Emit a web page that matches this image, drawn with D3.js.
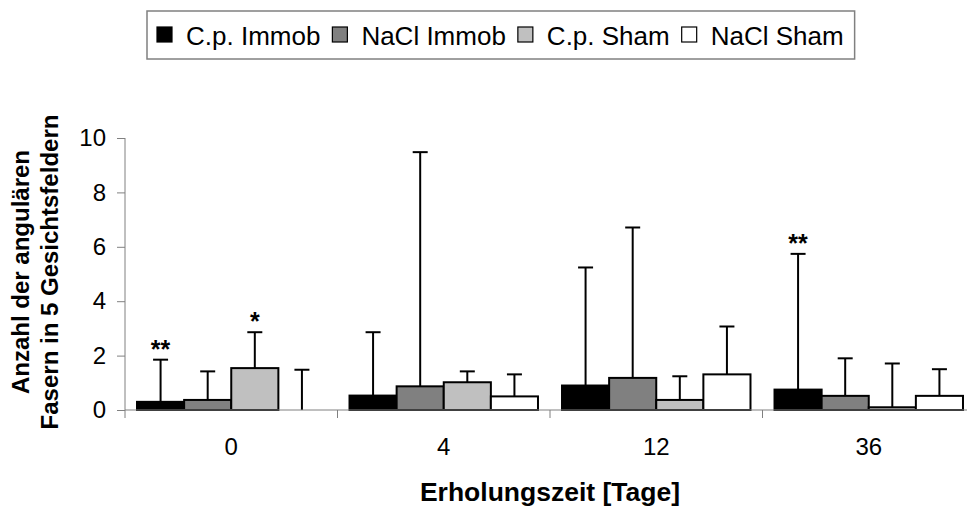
<!DOCTYPE html>
<html>
<head>
<meta charset="utf-8">
<script src="https://cdn.jsdelivr.net/npm/d3@7"></script>
<style>
  html, body { margin: 0; padding: 0; background: #fff; }
  svg { display: block; font-family: 'Liberation Sans', Arial, sans-serif; }
</style>
</head>
<body>
<div id="chart"></div>
<script>
// categories (recovery days) and series
const categories = ['0', '4', '12', '36'];
const seriesNames = ['C.p. Immob', 'NaCl Immob', 'C.p. Sham', 'NaCl Sham'];

// means
const cpImmob = [0.3, 0.53, 0.9, 0.75];
const naclImmob = [0.37, 0.87, 1.18, 0.52];
const cpSham = [1.54, 1.02, 0.37, 0.1];
const naclSham = [0, 0.5, 1.31, 0.52];

// standard deviations (upper error bars only)
const cpImmobSd = [1.55, 2.33, 4.34, 4.99];
const naclImmobSd = [1.05, 8.61, 5.53, 1.38];
const cpShamSd = [1.32, 0.4, 0.87, 1.61];
const naclShamSd = [1.48, 0.81, 1.76, 0.98];

// significance marks
const cpImmobSig = ['**', '', '', '**'];
const naclImmobSig = ['', '', '', ''];
const cpShamSig = ['*', '', '', ''];
const naclShamSig = ['', '', '', ''];

const yTicks = [0, 2, 4, 6, 8, 10];

/**
 * layout config
 */
const config = {
  width: 967,
  height: 508,
  plot: { left: 125, right: 975, top: 138, bottom: 410 },
  colors: ['#000000', '#808080', '#c0c0c0', '#ffffff'],
  axis_color: '#808080',
  font: "'Liberation Sans', Arial, sans-serif",
  tick_size: 24,
  title_size: 24,
  x_title_size: 26.5,
  legend_size: 26,
  sig_size: 25,
  cap_width: 15
};

const series = [
  { name: seriesNames[0], values: cpImmob, sd: cpImmobSd, sig: cpImmobSig },
  { name: seriesNames[1], values: naclImmob, sd: naclImmobSd, sig: naclImmobSig },
  { name: seriesNames[2], values: cpSham, sd: cpShamSd, sig: cpShamSig },
  { name: seriesNames[3], values: naclSham, sd: naclShamSd, sig: naclShamSig }
];

const { plot } = config;

const svg = d3.select('#chart').append('svg')
  .attr('width', config.width)
  .attr('height', config.height);

const x0 = d3.scaleBand()
  .domain(categories)
  .range([plot.left, plot.right])
  .padding(0);

const x1 = d3.scaleBand()
  .domain(seriesNames)
  .range([0, x0.bandwidth()])
  .paddingInner(0)
  .paddingOuter(0.255);

const y = d3.scaleLinear()
  .domain([0, 10])
  .range([plot.bottom, plot.top]);

// y axis
const yAxis = svg.append('g')
  .attr('transform', `translate(${plot.left},0)`)
  .call(d3.axisLeft(y).tickValues(yTicks).tickSize(8).tickPadding(11).tickFormat(d3.format('d')));
yAxis.select('.domain').attr('stroke', config.axis_color).attr('d', `M0,${plot.bottom}V${plot.top}`);
yAxis.selectAll('.tick line').attr('stroke', config.axis_color);
yAxis.selectAll('.tick text')
  .attr('fill', '#000')
  .style('font-size', config.tick_size + 'px')
  .style('font-family', config.font);

// bars per category
const groups = svg.selectAll('g.cat')
  .data(categories)
  .enter().append('g')
  .attr('class', 'cat')
  .attr('transform', d => `translate(${x0(d)},0)`);

groups.each(function(cat, ci) {
  const g = d3.select(this);
  const rows = series.map((s, si) => ({
    name: s.name, color: config.colors[si],
    v: s.values[ci], sd: s.sd[ci], sig: s.sig[ci]
  }));

  // error bars (drawn first, bars cover the lower part)
  rows.forEach(r => {
    const cx = x1(r.name) + x1.bandwidth() / 2;
    const top = y(r.v + r.sd);
    g.append('line')
      .attr('x1', cx).attr('x2', cx)
      .attr('y1', y(r.v)).attr('y2', top)
      .attr('stroke', '#000').attr('stroke-width', 2);
    g.append('line')
      .attr('x1', cx - config.cap_width / 2).attr('x2', cx + config.cap_width / 2)
      .attr('y1', top).attr('y2', top)
      .attr('stroke', '#000').attr('stroke-width', 2);
    if (r.sig) {
      g.append('text')
        .attr('x', cx).attr('y', top - 2)
        .attr('text-anchor', 'middle')
        .style('font-size', config.sig_size + 'px')
        .style('font-weight', 'bold')
        .text(r.sig);
    }
  });

  g.selectAll('rect')
    .data(rows)
    .enter().append('rect')
    .attr('x', d => x1(d.name))
    .attr('y', d => y(d.v))
    .attr('width', x1.bandwidth())
    .attr('height', d => y(0) - y(d.v))
    .attr('fill', d => d.color)
    .attr('stroke', '#000')
    .attr('stroke-width', 2);
});

// x axis
const xAxis = svg.append('g')
  .attr('transform', `translate(0,${plot.bottom})`);
xAxis.append('line')
  .attr('x1', plot.left).attr('x2', plot.right)
  .attr('stroke', config.axis_color);
xAxis.selectAll('line.tick')
  .data(categories)
  .enter().append('line')
  .attr('class', 'tick')
  .attr('x1', d => x0(d)).attr('x2', d => x0(d))
  .attr('y1', 0).attr('y2', 8)
  .attr('stroke', config.axis_color);
xAxis.selectAll('text')
  .data(categories)
  .enter().append('text')
  .attr('x', d => x0(d) + x0.bandwidth() / 2)
  .attr('y', 45)
  .attr('text-anchor', 'middle')
  .style('font-size', config.tick_size + 'px')
  .text(d => d);

// axis titles
svg.append('text')
  .attr('x', (plot.left + plot.right) / 2).attr('y', 501)
  .attr('text-anchor', 'middle')
  .style('font-size', config.x_title_size + 'px')
  .style('font-weight', 'bold')
  .text('Erholungszeit [Tage]');

const yTitle = svg.append('text')
  .attr('transform', 'translate(0,272) rotate(-90)')
  .attr('text-anchor', 'middle')
  .style('font-size', config.title_size + 'px')
  .style('font-weight', 'bold');
yTitle.append('tspan').attr('x', 0).attr('y', 29).text('Anzahl der angulären');
yTitle.append('tspan').attr('x', 0).attr('y', 58).text('Fasern in 5 Gesichtsfeldern');

// legend
const legend = svg.append('g').attr('class', 'legend');
const box = legend.append('rect')
  .attr('x', 147).attr('y', 11)
  .attr('height', 48)
  .attr('fill', '#fff')
  .attr('stroke', '#808080')
  .attr('stroke-width', 1.5);

let cursor = 157;
series.forEach((s, i) => {
  legend.append('rect')
    .attr('x', cursor).attr('y', 27)
    .attr('width', 15).attr('height', 15)
    .attr('fill', config.colors[i])
    .attr('stroke', '#000')
    .attr('stroke-width', 1.2);
  const t = legend.append('text')
    .attr('x', cursor + 29).attr('y', 45)
    .style('font-size', config.legend_size + 'px')
    .text(s.name);
  cursor += 29 + t.node().getComputedTextLength() + 12;
});
box.attr('width', cursor - 12 + 11 - 147);
</script>
</body>
</html>
